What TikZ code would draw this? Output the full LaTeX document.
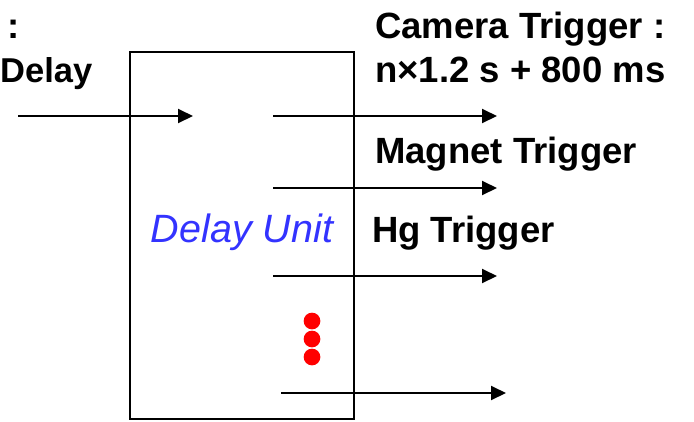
\documentclass[tikz,border=0pt]{standalone}
\usepackage{fontspec}
\setmainfont{Liberation Sans}
\usetikzlibrary{arrows.meta,positioning}

\begin{document}
\begin{tikzpicture}[x=1pt,y=-1pt,
    unitbox/.style={draw,line width=2pt,minimum width=224pt,
                    minimum height=367pt,inner sep=0pt},
    trig/.style={-{Triangle[length=15pt,width=14pt]},line width=2pt},
    lbl/.style={font=\fontsize{36.5}{44}\selectfont\bfseries,
                inner sep=0pt,anchor=base west},
    unitlbl/.style={font=\fontsize{39.5}{44}\selectfont\itshape,
                    text={rgb,255:red,51;green,51;blue,255},
                    inner sep=0pt,anchor=base},
    reddot/.style={circle,fill=red,minimum size=16.7pt,inner sep=0pt},
]
\useasboundingbox (0,0) rectangle (694,421);

% the delay unit
\node[unitbox] (unit) at (242,235.5) {};
\node[unitlbl] (unitname) at (242,242) {Delay Unit};

% input side
\node[lbl] (incolon) at (7,38) {:};
\node[lbl,font=\fontsize{34.5}{44}\selectfont\bfseries] (indelay) at (0,82) {Delay};

% output labels
\node[lbl] (cam1) at (375,38) {Camera Trigger :};
\node[lbl] (cam2) at (375,82) {n×1.2 s + 800 ms};
\node[lbl] (magnet) at (375,163) {Magnet Trigger};
\node[lbl] (hg) at (372,242) {Hg Trigger};

% arrow end points
\coordinate (in0) at (18,116);
\coordinate (in1) at (193,116);
\coordinate (out1a) at (273,116);
\coordinate (out1b) at (497,116);
\coordinate (out2a) at (273,188);
\coordinate (out2b) at (497,188);
\coordinate (out3a) at (273,276);
\coordinate (out3b) at (497,276);
\coordinate (out4a) at (281,393);
\coordinate (out4b) at (506,393);

% trigger arrows
\draw[trig] (in0) -- (in1);
\draw[trig] (out1a) -- (out1b);
\draw[trig] (out2a) -- (out2b);
\draw[trig] (out3a) -- (out3b);
\draw[trig] (out4a) -- (out4b);

% more channels
\foreach \i/\y in {1/321,2/339,3/357}
    \node[reddot] (dot\i) at (312,\y) {};

\end{tikzpicture}
\end{document}
